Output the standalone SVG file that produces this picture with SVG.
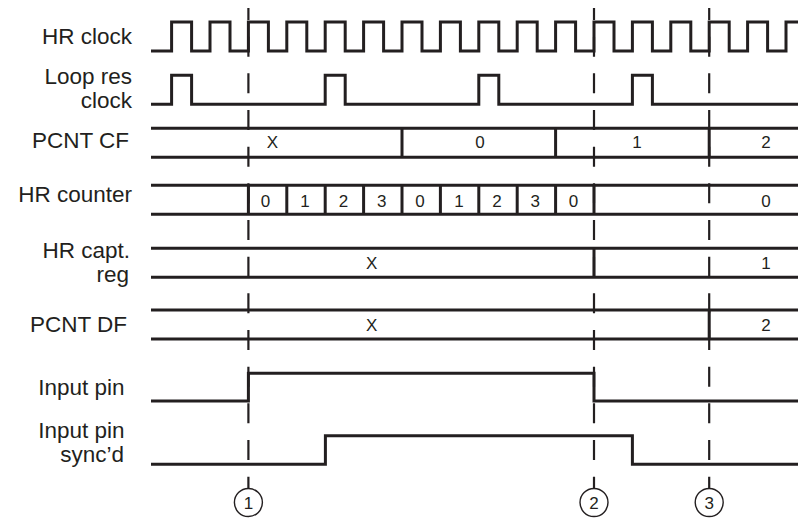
<svg xmlns="http://www.w3.org/2000/svg" width="799" height="519" viewBox="0 0 799 519">
<style>
.sig{fill:none;stroke:#231f20;stroke-width:3;stroke-linejoin:miter;stroke-linecap:butt}
.lbl{font-family:"Liberation Sans",Arial,sans-serif;font-size:22.5px;fill:#231f20;text-anchor:end}
.val{font-family:"Liberation Sans",Arial,sans-serif;font-size:17px;fill:#231f20;text-anchor:middle}
.mk{fill:none;stroke:#231f20;stroke-width:2.2;stroke-dasharray:20 16.67;stroke-dashoffset:8}
.circ{fill:#fff;stroke:#231f20;stroke-width:1.4}
</style>
<rect width="799" height="519" fill="#fff"/>

<g id="hr-clock">
<text class="lbl" x="132" y="43.5">HR clock</text>
<path class="sig" d="M151,51 H171.6 V22 H191.6 V51 H210 V22 H230 V51 H248.4 V22 H268.4 V51 H286.8 V22 H306.8 V51 H325.2 V22 H345.2 V51 H363.6 V22 H383.6 V51 H402 V22 H422 V51 H440.4 V22 H460.4 V51 H478.8 V22 H498.8 V51 H517.2 V22 H537.2 V51 H555.6 V22 H575.6 V51 H594 V22 H614 V51 H632.4 V22 H652.4 V51 H670.8 V22 H690.8 V51 H709.2 V22 H729.2 V51 H747.6 V22 H767.6 V51 H786 V22 H798"/>
</g>

<g id="loop-res-clock">
<text class="lbl" x="132" y="83.5">Loop res</text>
<text class="lbl" x="132" y="107.5">clock</text>
<path class="sig" d="M151,104.3 H171.6 V75.3 H191.6 V104.3 H325.2 V75.3 H345.2 V104.3 H478.8 V75.3 H498.8 V104.3 H632.4 V75.3 H652.4 V104.3 H798"/>
</g>

<g id="pcnt-cf">
<text class="lbl" x="129" y="148">PCNT CF</text>
<path class="sig" d="M151,128.3 H798 M151,157.3 H798 M402,128.3 V157.3 M555.6,128.3 V157.3 M709.2,128.3 V157.3"/>
<text class="val" x="272.5" y="148">X</text>
<text class="val" x="480" y="148">0</text>
<text class="val" x="637" y="148">1</text>
<text class="val" x="766" y="148">2</text>
</g>

<g id="hr-counter">
<text class="lbl" x="132" y="202">HR counter</text>
<path class="sig" d="M151,185.3 H798 M151,214.3 H798 M248.4,185.3 V214.3 M286.8,185.3 V214.3 M325.2,185.3 V214.3 M363.6,185.3 V214.3 M402,185.3 V214.3 M440.4,185.3 V214.3 M478.8,185.3 V214.3 M517.2,185.3 V214.3 M555.6,185.3 V214.3 M594,185.3 V214.3"/>
<text class="val" x="265.5" y="206.5">0</text>
<text class="val" x="305" y="206.5">1</text>
<text class="val" x="343.5" y="206.5">2</text>
<text class="val" x="381.7" y="206.5">3</text>
<text class="val" x="420" y="206.5">0</text>
<text class="val" x="459" y="206.5">1</text>
<text class="val" x="497" y="206.5">2</text>
<text class="val" x="535.3" y="206.5">3</text>
<text class="val" x="573.5" y="206.5">0</text>
<text class="val" x="766" y="206.5">0</text>
</g>

<g id="hr-capt-reg">
<text class="lbl" x="130" y="257.5">HR capt.</text>
<text class="lbl" x="129" y="281.5">reg</text>
<path class="sig" d="M151,248.3 H798 M151,277.3 H798 M594,248.3 V277.3"/>
<text class="val" x="371.7" y="268.5">X</text>
<text class="val" x="766" y="268.5">1</text>
</g>

<g id="pcnt-df">
<text class="lbl" x="127" y="331.5">PCNT DF</text>
<path class="sig" d="M151,310 H798 M151,339 H798 M709.2,310 V339"/>
<text class="val" x="371.7" y="331">X</text>
<text class="val" x="766" y="331">2</text>
</g>

<g id="input-pin">
<text class="lbl" x="124.5" y="395">Input pin</text>
<path class="sig" d="M151,401 H248.4 V373.3 H594 V401 H798"/>
</g>

<g id="input-pin-syncd">
<text class="lbl" x="124.5" y="438">Input pin</text>
<text class="lbl" x="124" y="461.5">sync’d</text>
<path class="sig" d="M151,464.3 H325.4 V435.7 H632.4 V464.3 H798"/>
</g>

<g id="connectors">
<line class="mk" x1="248.4" y1="8" x2="248.4" y2="488.5"/>
<line class="mk" x1="594" y1="8" x2="594" y2="488.5"/>
<line class="mk" x1="709.2" y1="8" x2="709.2" y2="488.5"/>
</g>

<g id="marker-1">
<circle class="circ" cx="248.4" cy="502.5" r="14"/>
<text class="val" x="248.4" y="509">1</text>
</g>
<g id="marker-2">
<circle class="circ" cx="594" cy="502.5" r="14"/>
<text class="val" x="594" y="509">2</text>
</g>
<g id="marker-3">
<circle class="circ" cx="709.2" cy="502.5" r="14"/>
<text class="val" x="709.2" y="509">3</text>
</g>
</svg>
